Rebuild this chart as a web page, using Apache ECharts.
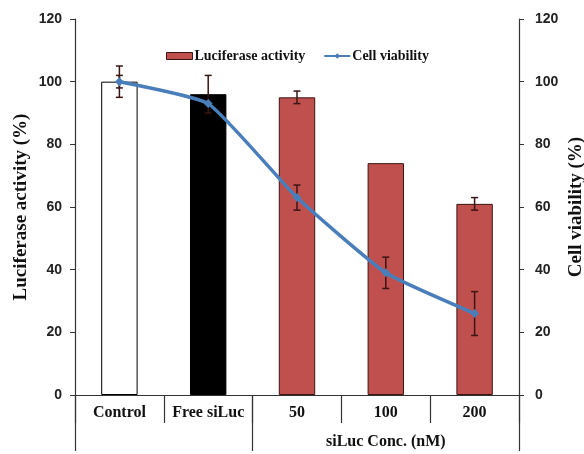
<!DOCTYPE html>
<html>
<head>
    <meta charset="UTF-8">
    <title>Luciferase activity / Cell viability</title>
    <script src="https://cdn.jsdelivr.net/npm/echarts@6/dist/echarts.min.js"></script>
    <style>
        html, body { margin: 0; padding: 0; background: #fff; }
        #chart { width: 584px; height: 454px; }
    </style>
</head>
<body>
<div id="chart"></div>
<script>
    // data
    var categories = ['Control', 'Free siLuc', '50', '100', '200'];
    var lucActivity = [100, 96, 95, 74, 61];
    var lucErr = [5, 6, 2, 0, 2];
    var viability = [100, 93, 63, 39, 26];
    var viabErr = [2, 0, 4, 5, 7];
    var yTicks = [0, 20, 40, 60, 80, 100, 120];
    var groupLabel = 'siLuc Conc. (nM)';

    var barColors = ['#ffffff', '#000000', '#c0504d', '#c0504d', '#c0504d'];
    var lineColor = '#4a7ebb';
    var serif = '"Liberation Serif", "Times New Roman", serif';
    var sans = '"Liberation Sans", Arial, sans-serif';

    var chart = echarts.init(document.getElementById('chart'));

    // error bar drawer (vertical line + caps)
    function errItem(params, api) {
        var x = api.value(0), y = api.value(1), e = api.value(2);
        if (!e) return;
        var top = api.coord([x, y + e]);
        var bot = api.coord([x, y - e]);
        var cw = 3.5;
        var st = { stroke: '#3b1414', lineWidth: 1.5 };
        return {
            type: 'group',
            children: [
                { type: 'line', shape: { x1: top[0], y1: top[1], x2: bot[0], y2: bot[1] }, style: st },
                { type: 'line', shape: { x1: top[0] - cw, y1: top[1], x2: top[0] + cw, y2: top[1] }, style: st },
                { type: 'line', shape: { x1: bot[0] - cw, y1: bot[1], x2: bot[0] + cw, y2: bot[1] }, style: st }
            ]
        };
    }

    var yAxisBase = {
        type: 'value',
        min: yTicks[0],
        max: yTicks[yTicks.length - 1],
        interval: 20,
        splitLine: { show: false },
        axisLine: { show: true, lineStyle: { color: '#333', width: 1.2 } },
        axisTick: { show: true, length: 5, lineStyle: { color: '#333' } },
        axisLabel: { fontFamily: sans, fontWeight: 'bold', fontSize: 14, color: '#222', margin: 13 },
        nameLocation: 'middle',
        nameRotate: 90,
        nameGap: 44,
        nameMoveOverlap: false,
        nameTextStyle: { fontFamily: serif, fontWeight: 'bold', fontSize: 19, color: '#111' }
    };

    var option = {
        animation: false,
        backgroundColor: '#fff',
        grid: { left: 75, right: 65, top: 19, bottom: 59, outerBoundsMode: 'none', containLabel: false },
        legend: {
            left: 161,
            top: 44,
            itemGap: 18,
            itemWidth: 26,
            itemHeight: 7,
            data: [
                { name: 'Luciferase activity', icon: 'rect', itemStyle: { color: '#c0504d', borderColor: '#3b1414', borderWidth: 1 } },
                { name: 'Cell viability' }
            ],
            textStyle: { fontFamily: serif, fontWeight: 'bold', fontSize: 14, color: '#111', padding: [0, 0, 0, -3] }
        },
        xAxis: [{
            type: 'category',
            data: categories,
            axisLine: { lineStyle: { color: '#333', width: 1.2 } },
            axisTick: { show: true, interval: 0, length: 28, inside: false, lineStyle: { color: '#333', width: 1.2 } },
            axisLabel: { interval: 0, fontFamily: serif, fontWeight: 'bold', fontSize: 16, color: '#111', margin: 10 }
        }, {
            type: 'value',
            min: 0,
            max: categories.length,
            position: 'bottom',
            axisLine: { show: false },
            splitLine: { show: false },
            axisTick: { show: true, length: 56, customValues: [0, 2, 5], lineStyle: { color: '#333', width: 1.2 } },
            axisLabel: {
                customValues: [3.5],
                formatter: function () { return groupLabel; },
                fontFamily: serif, fontWeight: 'bold', fontSize: 16, color: '#111', margin: 39
            }
        }],
        yAxis: [
            Object.assign({}, yAxisBase, { name: 'Luciferase activity (%)', position: 'left' }),
            Object.assign({}, yAxisBase, { name: 'Cell viability (%)', position: 'right', nameGap: 48, axisLabel: Object.assign({}, yAxisBase.axisLabel, { margin: 16 }) })
        ],
        series: [{
            name: 'Luciferase activity',
            type: 'bar',
            barWidth: '41%',
            data: lucActivity.map(function (v, i) {
                return { value: v, itemStyle: { color: barColors[i], borderColor: i >= 2 ? '#3b1414' : '#000', borderWidth: 1 } };
            }),
            itemStyle: { color: '#c0504d' },
            z: 2
        }, {
            type: 'custom',
            renderItem: errItem,
            data: lucActivity.map(function (v, i) { return [i, v, lucErr[i]]; }),
            z: 3
        }, {
            type: 'custom',
            yAxisIndex: 1,
            renderItem: errItem,
            data: viability.map(function (v, i) { return [i, v, viabErr[i]]; }),
            z: 3
        }, {
            name: 'Cell viability',
            type: 'line',
            yAxisIndex: 1,
            smooth: 0.15,
            data: viability,
            symbol: 'diamond',
            symbolSize: 9,
            lineStyle: { color: lineColor, width: 3.5 },
            itemStyle: { color: lineColor },
            z: 4
        }]
    };

    chart.setOption(option);
</script>
</body>
</html>
